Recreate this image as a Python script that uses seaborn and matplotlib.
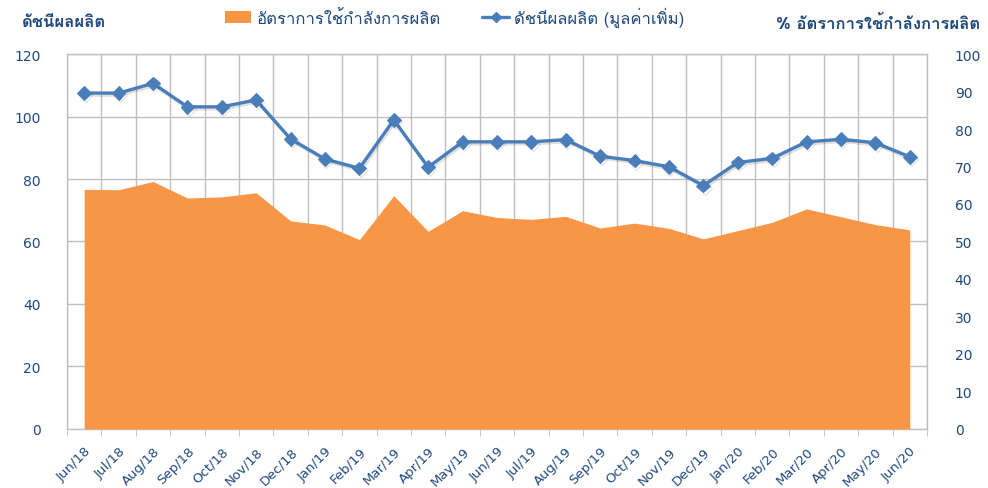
import numpy as np
import pandas as pd
import matplotlib
matplotlib.use("Agg")
import matplotlib.pyplot as plt
import matplotlib.patheffects as pe
from matplotlib import font_manager, ft2font
from matplotlib.patches import Patch
from matplotlib.lines import Line2D
import seaborn as sns

# Data
months = ['Jun/18', 'Jul/18', 'Aug/18', 'Sep/18', 'Oct/18', 'Nov/18', 'Dec/18',
          'Jan/19', 'Feb/19', 'Mar/19', 'Apr/19', 'May/19', 'Jun/19', 'Jul/19',
          'Aug/19', 'Sep/19', 'Oct/19', 'Nov/19', 'Dec/19', 'Jan/20', 'Feb/20',
          'Mar/20', 'Apr/20', 'May/20', 'Jun/20']
prod_index = [107.5, 107.5, 110.6, 103.1, 103.1, 105.3, 92.8, 86.4, 83.4, 98.9,
              83.8, 91.9, 91.9, 91.9, 92.6, 87.3, 85.9, 83.9, 77.9, 85.3, 86.6,
              91.9, 92.7, 91.6, 87.1]
cap_util = [63.9, 63.8, 66.0, 61.6, 61.9, 63.0, 55.5, 54.4, 50.5, 62.2, 52.7,
            58.2, 56.4, 55.9, 56.7, 53.6, 54.9, 53.5, 50.7, 52.9, 55.1, 58.7,
            56.6, 54.5, 53.1]
left_ticks = [0, 20, 40, 60, 80, 100, 120]
right_ticks = [0, 10, 20, 30, 40, 50, 60, 70, 80, 90, 100]

label_left = 'ดัชนีผลผลิต'
label_right = '% อัตราการใช้กำลังการผลิต'
label_area = 'อัตราการใช้กำลังการผลิต'
label_line = 'ดัชนีผลผลิต (มูลค่าเพิ่ม)'

df = pd.DataFrame({'pos': np.arange(len(months)), 'month': months,
                   'index': prod_index, 'cap': cap_util})

sns.set_style('white')

# find an installed font that has Thai glyphs
thai_font = None
for f in font_manager.fontManager.ttflist:
    try:
        if 0x0E14 in ft2font.FT2Font(f.fname).get_charmap():
            thai_font = f.name
            break
    except Exception:
        pass
families = [thai_font, 'DejaVu Sans'] if thai_font else ['DejaVu Sans']
plt.rcParams['font.family'] = ['DejaVu Sans']

ORANGE = '#F79646'
BLUE = '#4A7EBB'
TXT = '#1F497D'
GRID = '#BFBFBF'

fig = plt.figure(figsize=(9.88, 4.89), dpi=100)
ax = fig.add_axes([0.0678, 0.1207, 0.8704, 0.7668])
ax_area = ax.twinx()
ax_line = ax.twinx()

# base axes: grid + left axis + x axis
ax.set_xlim(-0.5, len(months) - 0.5)
ax.set_ylim(0, 120)
ax.set_yticks(left_ticks)
ax.set_xticks(df['pos'])
ax.set_xticklabels(months, rotation=45, ha='right', rotation_mode='anchor')
ax.set_xticks(np.arange(-0.5, len(months), 1), minor=True)
ax.grid(True, which='minor', axis='x', color=GRID, lw=1)
ax.grid(True, which='major', axis='y', color=GRID, lw=1)
ax.tick_params(axis='x', which='major', length=0, pad=11, labelsize=9.5, labelcolor=TXT)
ax.tick_params(axis='x', which='minor', length=5, color=GRID, direction='out', bottom=True)
ax.tick_params(axis='y', length=0, pad=19, labelsize=10, labelcolor=TXT)
for s in ax.spines.values():
    s.set_color(GRID)
    s.set_linewidth(1)

# area on right axis
ax_area.fill_between(df['pos'], df['cap'], color=ORANGE, lw=0)
ax_area.set_ylim(0, 100)
ax_area.set_yticks(right_ticks)
ax_area.tick_params(axis='y', length=0, pad=20, labelsize=10, labelcolor=TXT)
for s in ax_area.spines.values():
    s.set_visible(False)

# line on left axis scale
sns.lineplot(data=df, x='pos', y='index', ax=ax_line, color=BLUE, lw=2.4,
             marker='D', markersize=7, markeredgecolor=BLUE,
             path_effects=[pe.SimpleLineShadow(offset=(1, -1.5), alpha=0.12),
                           pe.Normal()])
ax_line.set_ylim(0, 120)
ax_line.set_xlim(-0.5, len(months) - 0.5)
ax_line.set_yticks([])
ax_line.set_xlabel('')
ax_line.set_ylabel('')
for s in ax_line.spines.values():
    s.set_visible(False)
ax.set_xlabel('')
ax_area.set_ylabel('')

# axis titles
fig.text(0.022, 0.955, label_left, family=families, fontsize=12, fontweight='bold',
         color=TXT, ha='left', va='center')
fig.text(0.992, 0.952, label_right, family=families, fontsize=12, fontweight='bold',
         color=TXT, ha='right', va='center')

# legend
handles = [Patch(facecolor=ORANGE, edgecolor='none'),
           Line2D([0], [0], color=BLUE, lw=2.4, marker='D', markersize=5)]
leg = fig.legend(handles, [label_area, label_line], loc='upper center',
                 bbox_to_anchor=(0.46, 1.015), ncol=2, frameon=False,
                 handlelength=1.6, handletextpad=0.3, columnspacing=2.5,
                 prop={'family': families, 'size': 12})
for t in leg.get_texts():
    t.set_color(TXT)

fig.savefig('out.png', dpi=100)
